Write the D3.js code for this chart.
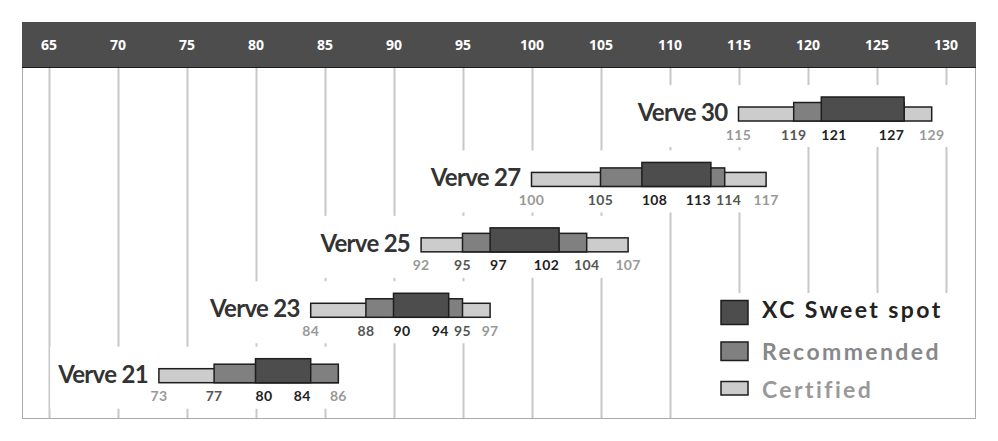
<!DOCTYPE html>
<html><head><meta charset="utf-8">
<script src="https://cdn.jsdelivr.net/npm/d3@7"></script>
<style>
html,body{margin:0;padding:0;background:#fff;}
svg{display:block;}
</style></head>
<body>
<svg id="chart" width="998" height="441"></svg>
<script>
// ---- data ----
const models = ["Verve 30", "Verve 27", "Verve 25", "Verve 23", "Verve 21"];
const certifiedStart = [115, 100, 92, 84, 73];
const certifiedEnd = [129, 117, 107, 97, 86];
const recommendedStart = [119, 105, 95, 88, 77];
const recommendedEnd = [127, 114, 104, 95, 86];
const sweetStart = [121, 108, 97, 90, 80];
const sweetEnd = [127, 113, 102, 94, 84];
const tickValues = [65, 70, 75, 80, 85, 90, 95, 100, 105, 110, 115, 120, 125, 130];
const legendLabels = ["XC Sweet spot", "Recommended", "Certified"];

// ---- layout ----
const panel = {left: 22, top: 22, right: 975, bottom: 418, header: 45};
const colors = {sweet: "#4d4d4d", rec: "#808080", cert: "#cccccc"};
const textColors = {sweet: "#222", rec: "#555", cert: "#999"};

const svg = d3.select("#chart");
const x = d3.scaleLinear().domain([65, 130]).range([48.5, 945.5]);
const y = d3.scalePoint().domain(models).range([121, 382.7]);

// panel border
svg.append("rect").attr("x", panel.left + 0.5).attr("y", panel.top + 0.5)
  .attr("width", panel.right - panel.left).attr("height", panel.bottom - panel.top)
  .attr("fill", "#fff").attr("stroke", "#aaa").attr("stroke-width", 1);

// grid lines
const gTop = panel.top + panel.header;
svg.append("g").selectAll("line").data(tickValues).join("line")
  .attr("x1", d => Math.round(x(d)) + 0.5).attr("x2", d => Math.round(x(d)) + 0.5)
  .attr("y1", gTop).attr("y2", panel.bottom)
  .attr("stroke", "#c8c8c8").attr("stroke-width", 2);

// header
svg.append("rect").attr("x", panel.left).attr("y", panel.top)
  .attr("width", panel.right - panel.left + 1).attr("height", panel.header)
  .attr("fill", "#4d4d4d");
svg.append("line").attr("x1", panel.left).attr("x2", panel.right + 1)
  .attr("y1", gTop + 0.5).attr("y2", gTop + 0.5).attr("stroke", "#1a1a1a").attr("stroke-width", 1);

const axis = d3.axisTop(x).tickValues(tickValues).tickSize(0).tickPadding(0);
const axG = svg.append("g").attr("transform", `translate(0,${panel.top + 28})`).call(axis);
axG.select(".domain").remove();
axG.selectAll("text").attr("fill", "#fff").attr("font-family", "'Open Sans', sans-serif")
  .attr("font-weight", "bold").attr("font-size", 14).attr("dy", 0);

// legend background
const legG = svg.append("g");
legG.append("rect").attr("x", 700).attr("y", 293).attr("width", panel.right - 700)
  .attr("height", panel.bottom - 293).attr("fill", "#fff");

// rows
models.forEach((m, i) => {
  const yb = y(m);
  const g = svg.append("g");
  const bg = g.append("rect").attr("fill", "#fff");
  const label = g.append("text").text(m)
    .attr("x", x(certifiedStart[i]) - 11).attr("y", yb)
    .attr("text-anchor", "end").attr("font-family", "Lato, sans-serif")
    .attr("font-weight", "bold").attr("font-size", 24).attr("letter-spacing", -0.7)
    .attr("fill", "#333");
  const lw = label.node().getComputedTextLength();
  const left = x(certifiedStart[i]) - 11 - lw - 8;
  const right = x(certifiedEnd[i]) + 20;
  bg.attr("x", left).attr("y", yb - 36).attr("width", right - left).attr("height", 62);

  const bars = [
    {s: certifiedStart[i], e: certifiedEnd[i], h: 14, c: colors.cert},
    {s: recommendedStart[i], e: recommendedEnd[i], h: 18.5, c: colors.rec},
    {s: sweetStart[i], e: sweetEnd[i], h: 24, c: colors.sweet}
  ];
  g.selectAll("rect.bar").data(bars).join("rect").attr("class", "bar")
    .attr("x", d => x(d.s)).attr("y", d => yb - d.h)
    .attr("width", d => x(d.e) - x(d.s)).attr("height", d => d.h)
    .attr("fill", d => d.c).attr("stroke", "#1e1e1e").attr("stroke-width", 1.5);

  // value labels: sweet start anchored at start, sweet end at end, others centred
  const vals = [];
  const add = (v, c, a) => { if (!vals.some(o => o.v === v)) vals.push({v, c, a}); };
  add(certifiedStart[i], textColors.cert, "middle");
  add(certifiedEnd[i], textColors.cert, "middle");
  add(recommendedStart[i], textColors.rec, "middle");
  add(sweetStart[i], textColors.sweet, "start");
  add(sweetEnd[i], textColors.sweet, "end");
  add(recommendedEnd[i], textColors.rec, "middle");
  vals.sort((a, b) => a.v - b.v);
  const txt = g.selectAll("text.val").data(vals).join("text").attr("class", "val")
    .attr("x", d => x(d.v)).attr("y", yb + 18.5)
    .attr("text-anchor", d => d.a).attr("font-family", "Lato, sans-serif")
    .attr("font-weight", "bold").attr("font-size", 14).attr("letter-spacing", 0.3)
    .attr("fill", d => d.c).text(d => d.v);
  // nudge overlapping labels to the right
  let prevEnd = -Infinity;
  txt.each(function (d) {
    const w = this.getComputedTextLength();
    let x0 = x(d.v) - (d.a === "middle" ? w / 2 : d.a === "end" ? w : 0);
    if (x0 < prevEnd + 5) {
      const dx = prevEnd + 5 - x0;
      d3.select(this).attr("x", x(d.v) + dx);
      x0 += dx;
    }
    prevEnd = x0 + w;
  });
});

// legend
const legSw = [
  {top: 300.5, h: 24, c: colors.sweet, t: textColors.sweet, base: 318},
  {top: 342, h: 18.5, c: colors.rec, t: "#888", base: 360},
  {top: 381.5, h: 13.5, c: colors.cert, t: "#999", base: 398}
];
legSw.forEach((d, i) => {
  legG.append("rect").attr("x", 721).attr("y", d.top).attr("width", 27).attr("height", d.h)
    .attr("fill", d.c).attr("stroke", "#1e1e1e").attr("stroke-width", 1.5);
  legG.append("text").attr("x", 762).attr("y", d.base).text(legendLabels[i])
    .attr("font-family", "Lato, sans-serif").attr("font-weight", "bold")
    .attr("font-size", 23).attr("letter-spacing", 2.4).attr("fill", d.t);
});
</script>
</body></html>
